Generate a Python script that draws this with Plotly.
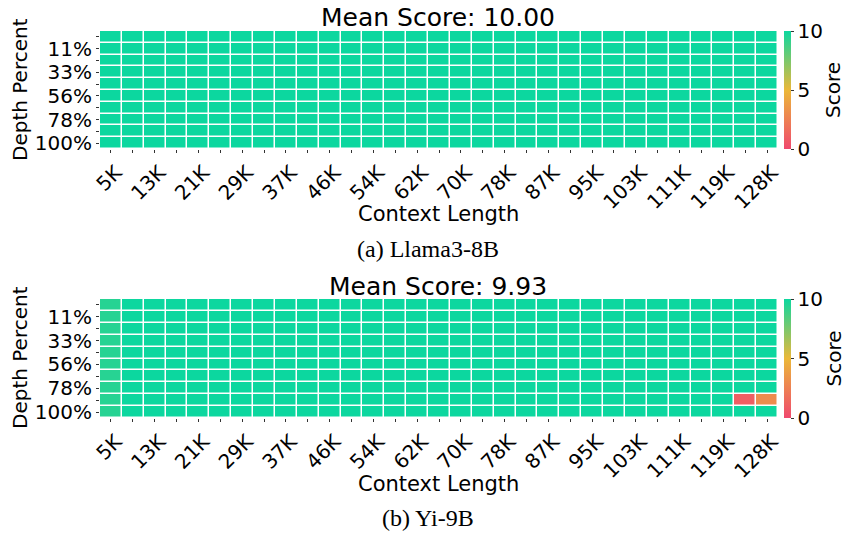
import plotly.graph_objects as go

# ---- data ----
context_labels = ["5K", "9K", "13K", "17K", "21K", "25K", "29K", "33K", "37K", "41K",
                  "46K", "50K", "54K", "58K", "62K", "66K", "70K", "74K", "78K", "82K",
                  "87K", "91K", "95K", "99K", "103K", "107K", "111K", "115K", "119K", "123K", "128K"]
depth_labels = ["0%", "11%", "22%", "33%", "44%", "56%", "67%", "78%", "89%", "100%"]

n_ctx = len(context_labels)
n_dep = len(depth_labels)

# Llama3-8B: all perfect
llama_scores = [[10] * n_ctx for _ in range(n_dep)]

# Yi-9B: first column slightly lower, two failures at 89% depth
yi_scores = [
    [9.4] + [10] * 30,
    [9.4] + [10] * 30,
    [9.4] + [10] * 30,
    [9.4] + [10] * 30,
    [9.4] + [10] * 30,
    [9.4] + [10] * 30,
    [9.4] + [10] * 30,
    [9.4] + [10] * 30,
    [9.4] + [10] * 28 + [1, 3],
    [9.4] + [10] * 30,
]

panels = [
    ("Mean Score: 10.00", "(a) Llama3-8B", llama_scores),
    ("Mean Score: 9.93", "(b) Yi-9B", yi_scores),
]

# ---- layout geometry (pixels) ----
W, H = 844, 533
x_left, x_right = 100, 778
tops = [31, 299]
bots = [149, 418]
title_y = [18, 286]
xlabel_y = [214, 484]
caption_y = [249, 518]
ytitle_y = [90, 358]

colorscale = [[0, "#F0496E"], [0.5, "#EBB839"], [1, "#0CD79F"]]
FONT = "DejaVu Sans"

def px_x(x):
    return x / W

def px_y(y):
    return 1 - y / H

fig = go.Figure()
annotations = []

for i, (title, caption, z) in enumerate(panels):
    sfx = "" if i == 0 else str(i + 1)
    ca = "coloraxis" + sfx
    fig.add_trace(go.Heatmap(
        z=z,
        x=list(range(n_ctx)),
        y=list(range(n_dep)),
        coloraxis=ca,
        xgap=1.5, ygap=1.5,
        xaxis="x" + sfx, yaxis="y" + sfx,
        hovertemplate="%{z}<extra></extra>",
    ))
    y0, y1 = px_y(bots[i]), px_y(tops[i])
    fig.update_layout(**{
        "xaxis" + sfx: dict(
            domain=[px_x(x_left), px_x(x_right)],
            anchor="y" + sfx,
            range=[-0.5, n_ctx - 0.5],
            tickmode="array",
            tickvals=list(range(n_ctx)),
            ticktext=[lab if j % 2 == 0 else "" for j, lab in enumerate(context_labels)],
            tickangle=-45,
            ticklabelshift=5,
            ticks="outside", ticklen=3, tickwidth=1, tickcolor="#333",
            tickfont=dict(family=FONT, size=20, color="black"),
            showgrid=False, zeroline=False, showline=False,
            automargin=False,
        ),
        "yaxis" + sfx: dict(
            domain=[y0, y1],
            anchor="x" + sfx,
            range=[n_dep - 0.5, -0.5],
            tickmode="array",
            tickvals=list(range(n_dep)),
            ticktext=[lab if j % 2 == 1 else "" for j, lab in enumerate(depth_labels)],
            ticks="outside", ticklen=3, tickwidth=1, tickcolor="#333",
            tickfont=dict(family=FONT, size=20, color="black"),
            showgrid=False, zeroline=False, showline=False,
            automargin=False,
        ),
        ca: dict(
            cmin=0, cmax=10,
            colorscale=colorscale,
            colorbar=dict(
                x=px_x(784), xanchor="left",
                y=(y0 + y1) / 2, yanchor="middle",
                len=(y1 - y0), lenmode="fraction",
                thickness=7, thicknessmode="pixels",
                outlinewidth=0,
                tickvals=[0, 5, 10],
                ticks="outside", ticklen=3, tickcolor="#333",
                tickfont=dict(family=FONT, size=20, color="black"),
                xpad=0, ypad=0,
            ),
        ),
    })
    mid_y = (tops[i] + bots[i]) / 2
    annotations += [
        dict(text=title, x=px_x(438), y=px_y(title_y[i]),
             xref="paper", yref="paper", xanchor="center", yanchor="middle",
             showarrow=False, font=dict(family=FONT, size=25, color="black")),
        dict(text="Context Length", x=px_x(438), y=px_y(xlabel_y[i]),
             xref="paper", yref="paper", xanchor="center", yanchor="middle",
             showarrow=False, font=dict(family=FONT, size=21, color="black")),
        dict(text=caption, x=px_x(428), y=px_y(caption_y[i]),
             xref="paper", yref="paper", xanchor="center", yanchor="middle",
             showarrow=False, font=dict(family="Liberation Serif", size=24, color="black")),
        dict(text="Depth Percent", x=px_x(20), y=px_y(ytitle_y[i]),
             xref="paper", yref="paper", xanchor="center", yanchor="middle",
             textangle=-90,
             showarrow=False, font=dict(family=FONT, size=20, color="black")),
        dict(text="Score", x=px_x(833), y=px_y(mid_y),
             xref="paper", yref="paper", xanchor="center", yanchor="middle",
             textangle=-90,
             showarrow=False, font=dict(family=FONT, size=20, color="black")),
    ]

fig.update_layout(
    width=W, height=H,
    margin=dict(l=0, r=0, t=0, b=0, autoexpand=False),
    paper_bgcolor="white", plot_bgcolor="white",
    annotations=annotations,
    showlegend=False,
)

fig.write_html("out.html",
               config={"displayModeBar": False},
               post_script="document.body.style.margin='0';document.body.style.padding='0';")
